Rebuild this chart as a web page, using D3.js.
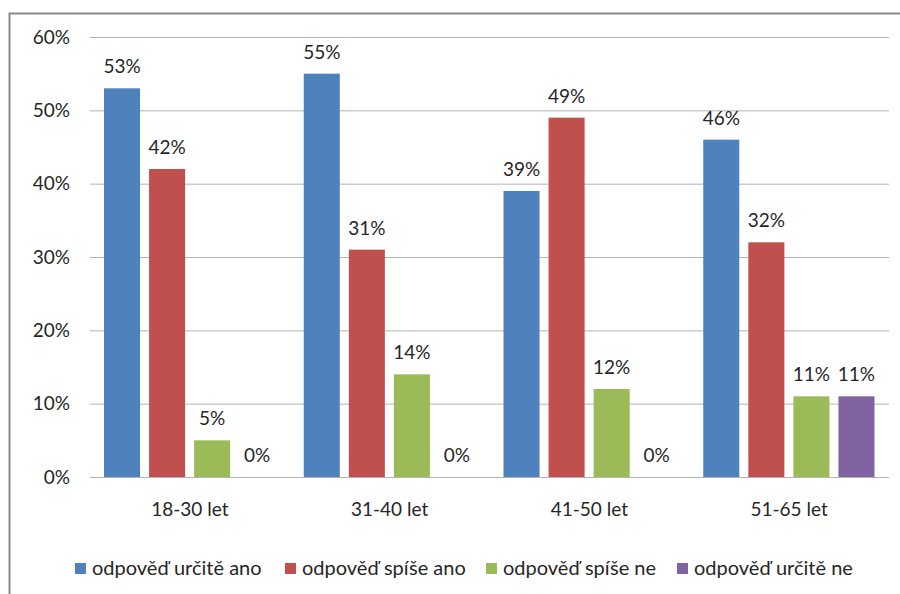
<!DOCTYPE html>
<html>
<head>
<meta charset="utf-8">
<script src="https://cdn.jsdelivr.net/npm/d3@7"></script>
<style>
  html, body { margin: 0; padding: 0; background: #fff; }
  svg { display: block; }
  text { font-family: Lato, "Liberation Sans", sans-serif; fill: #262626; }
</style>
</head>
<body>
<svg id="chart" width="900" height="594"></svg>
<script>
// Age groups and answer shares (percent)
const categories = ["18-30 let", "31-40 let", "41-50 let", "51-65 let"];
const seriesNames = ["odpověď určitě ano", "odpověď spíše ano", "odpověď spíše ne", "odpověď určitě ne"];
const urciteAno = [53, 55, 39, 46];
const spiseAno  = [42, 31, 49, 32];
const spiseNe   = [5, 14, 12, 11];
const urciteNe  = [0, 0, 0, 11];
const yTicks = [0, 10, 20, 30, 40, 50, 60];
const colors = ["#4F81BD", "#C0504D", "#9BBB59", "#8064A2"];

const seriesValues = [urciteAno, spiseAno, spiseNe, urciteNe];
const rows = categories.map((c, i) => ({
  category: c,
  values: seriesNames.map((s, j) => ({ series: s, idx: j, value: seriesValues[j][i] }))
}));

const svg = d3.select("#chart");
const plot = { left: 90, right: 889, top: 37, bottom: 477 };

// Frame along the top and left edges
svg.append("path")
  .attr("d", "M9.5,594 L9.5,13.5 L900,13.5")
  .attr("fill", "none")
  .attr("stroke", "#8a8a8a")
  .attr("stroke-width", 2);

const y = d3.scaleLinear().domain([0, 60]).range([plot.bottom, plot.top]);
const x0 = d3.scaleBand().domain(categories).range([plot.left, plot.right]).padding(0);
const x1 = d3.scaleBand().domain(seriesNames)
  .range([14, x0.bandwidth() - 14.5]).paddingInner(0.2).paddingOuter(0);

// Horizontal gridlines with percent labels
const yAxis = d3.axisLeft(y).tickValues(yTicks)
  .tickSize(-(plot.right - plot.left))
  .tickPadding(20)
  .tickFormat(d => d + "%");
const gy = svg.append("g").attr("transform", `translate(${plot.left},0)`).call(yAxis);
gy.select(".domain").remove();
gy.selectAll(".tick line").attr("stroke", "#b4b4b4").attr("stroke-width", 1);
gy.selectAll(".tick text").attr("font-size", 19).attr("fill", "#262626")
  .style("font-family", "Lato, 'Liberation Sans', sans-serif");

// Category axis labels
const xAxis = d3.axisBottom(x0).tickSize(0).tickPadding(26);
const gx = svg.append("g").attr("transform", `translate(0,${plot.bottom})`).call(xAxis);
gx.select(".domain").remove();
gx.selectAll(".tick text").attr("font-size", 19).attr("fill", "#262626")
  .style("font-family", "Lato, 'Liberation Sans', sans-serif");

// Bars
const groups = svg.append("g").selectAll("g").data(rows).join("g")
  .attr("transform", d => `translate(${x0(d.category)},0)`);

groups.selectAll("rect").data(d => d.values).join("rect")
  .attr("x", d => x1(d.series))
  .attr("y", d => y(d.value))
  .attr("width", x1.bandwidth())
  .attr("height", d => y(0) - y(d.value))
  .attr("fill", d => colors[d.idx]);

// Value labels above bars
groups.selectAll("text.val").data(d => d.values).join("text")
  .attr("class", "val")
  .attr("x", d => x1(d.series) + x1.bandwidth() / 2)
  .attr("y", d => y(d.value) - 15)
  .attr("text-anchor", "middle")
  .attr("font-size", 19)
  .text(d => d.value + "%");

// Legend
const legendX = [75, 285, 486, 677];
const legend = svg.append("g").selectAll("g").data(seriesNames).join("g")
  .attr("transform", (d, i) => `translate(${legendX[i]},563)`);
legend.append("rect").attr("width", 11).attr("height", 11)
  .attr("fill", (d, i) => colors[i]);
legend.append("text").attr("x", 17).attr("y", 12)
  .attr("font-size", 20).text(d => d);
</script>
</body>
</html>
